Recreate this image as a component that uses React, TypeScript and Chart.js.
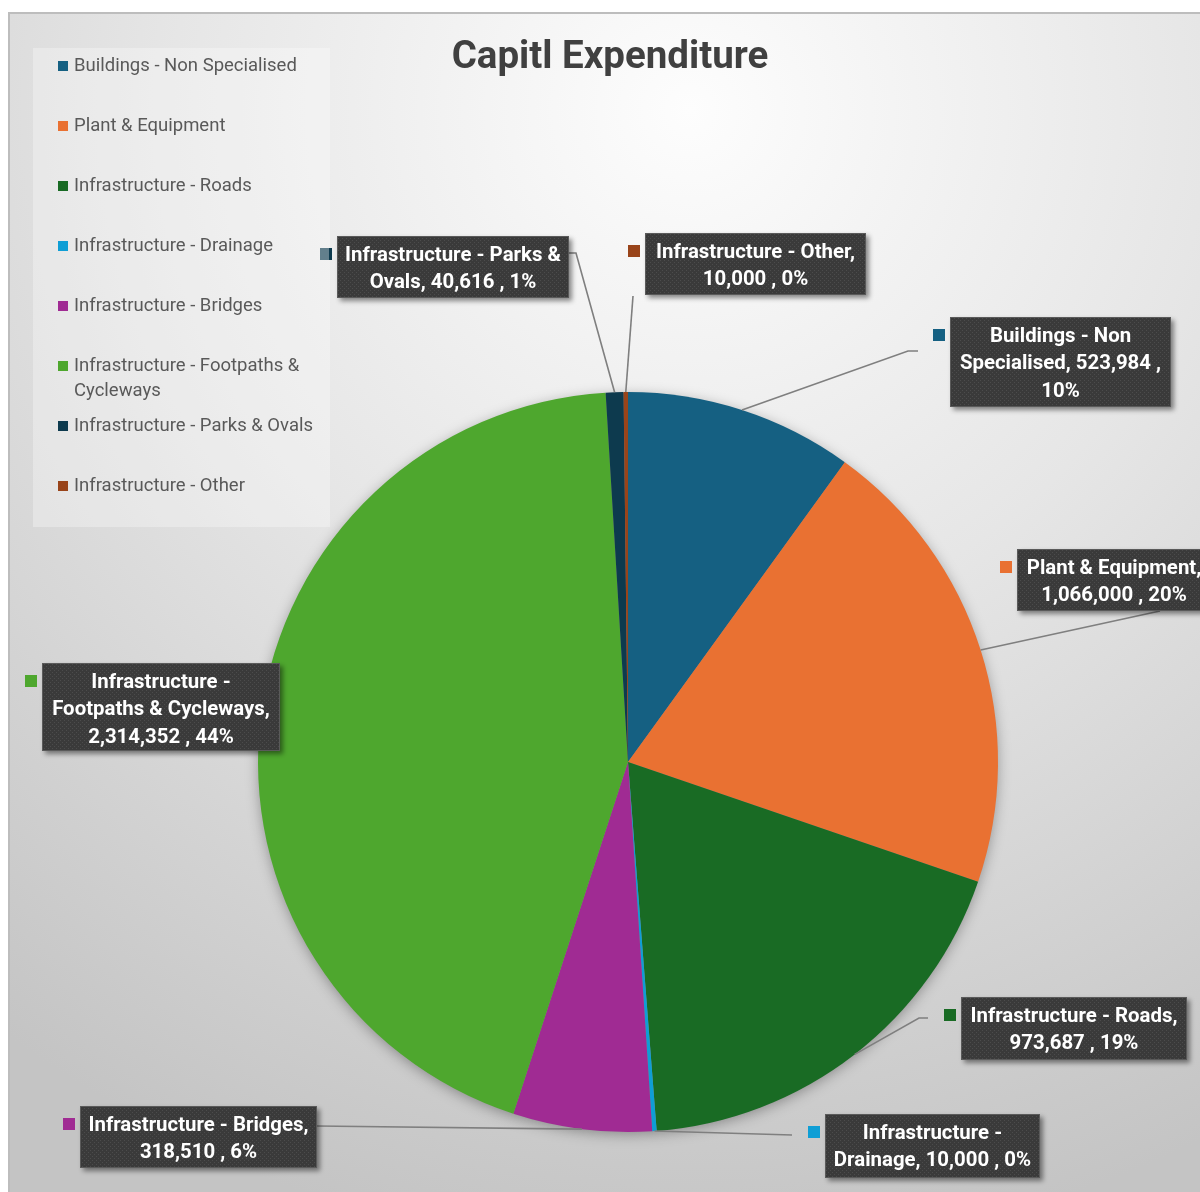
import React, { useEffect, useRef } from 'react';
import { Chart, registerables } from 'chart.js';
Chart.register(...registerables);

const W = 1200;
const H = 1192;

const TITLE = 'Capitl Expenditure';
const categories = [
  'Buildings - Non Specialised',
  'Plant & Equipment',
  'Infrastructure - Roads',
  'Infrastructure - Drainage',
  'Infrastructure - Bridges',
  'Infrastructure - Footpaths & Cycleways',
  'Infrastructure - Parks & Ovals',
  'Infrastructure - Other',
];
const values = [523984, 1066000, 973687, 10000, 318510, 2314352, 40616, 10000];
const colors = ['#156082', '#E97132', '#196B24', '#0F9ED5', '#A02B93', '#4EA72E', '#0D3A4E', '#99441A'];

// layout of data-label boxes (positions only) and leader line start points
const labelLayout = [
  { x: 950, y: 317, w: 221, h: 90, lead: [[918, 351], [908, 351]] },
  { x: 1017, y: 549, w: 194, h: 62, lead: [[1160, 611]] },
  { x: 961, y: 997, w: 226, h: 63, lead: [[928, 1018], [919, 1018]] },
  { x: 825, y: 1114, w: 215, h: 64, lead: [[792, 1135]] },
  { x: 80, y: 1106, w: 237, h: 62, lead: [[317, 1126]] },
  { x: 42, y: 663, w: 238, h: 88, lead: [] },
  { x: 337, y: 236, w: 232, h: 62, lead: [[569, 253], [576, 253]] },
  { x: 645, y: 233, w: 221, h: 62, lead: [[633, 296]] },
];

const LABEL_FONT = 'bold 20px Roboto, "Noto Sans", sans-serif';
const LABEL_SCALE = 1.02;
const LEGEND_FONT = '18.5px Roboto, "Noto Sans", sans-serif';
const TITLE_FONT = 'bold 38.5px Roboto, "Noto Sans", sans-serif';

function fmt(n: number) {
  return n.toLocaleString('en-US');
}

function wrap(ctx: CanvasRenderingContext2D, text: string, maxW: number, scale: number) {
  const words = text.split(' ');
  const lines: string[] = [];
  let cur = '';
  for (const w of words) {
    const t = cur ? cur + ' ' + w : w;
    if (cur && ctx.measureText(t).width * scale > maxW) {
      lines.push(cur);
      cur = w;
    } else cur = t;
  }
  if (cur) lines.push(cur);
  return lines;
}

function makePattern(ctx: CanvasRenderingContext2D) {
  const c = document.createElement('canvas');
  c.width = 4;
  c.height = 4;
  const p = c.getContext('2d')!;
  p.fillStyle = '#3a3a3a';
  p.fillRect(0, 0, 4, 4);
  p.fillStyle = '#4c4c4c';
  p.fillRect(0, 0, 1, 1);
  p.fillRect(2, 2, 1, 1);
  return ctx.createPattern(c, 'repeat');
}

function lighten(hex: string, t: number) {
  const n = parseInt(hex.slice(1), 16);
  const r = (n >> 16) & 255, g = (n >> 8) & 255, b = n & 255;
  const f = (v: number) => Math.round(v + (255 - v) * t);
  return `rgb(${f(r)},${f(g)},${f(b)})`;
}

const decorPlugin = {
  id: 'decor',
  beforeDraw(chart: any) {
    const ctx: CanvasRenderingContext2D = chart.ctx;
    ctx.save();
    ctx.fillStyle = '#ffffff';
    ctx.fillRect(0, 0, W, H);
    const g = ctx.createRadialGradient(690, 110, 0, 690, 110, 1150);
    g.addColorStop(0, '#fdfdfd');
    g.addColorStop(0.45, '#e6e6e6');
    g.addColorStop(1, '#c4c4c4');
    ctx.fillStyle = g;
    ctx.fillRect(8, 12, W, H);
    ctx.strokeStyle = '#bdbdbd';
    ctx.lineWidth = 2;
    ctx.beginPath();
    ctx.moveTo(9, H + 5);
    ctx.lineTo(9, 13);
    ctx.lineTo(W + 5, 13);
    ctx.stroke();

    // title
    ctx.fillStyle = '#404040';
    ctx.font = TITLE_FONT;
    ctx.textAlign = 'center';
    ctx.textBaseline = 'middle';
    ctx.fillText(TITLE, 610, 58);

    // legend
    ctx.fillStyle = 'rgba(255,255,255,0.3)';
    ctx.fillRect(33, 48, 297, 479);
    ctx.font = LEGEND_FONT;
    ctx.textAlign = 'left';
    ctx.textBaseline = 'middle';
    const labels: string[] = chart.data.labels;
    const bg: string[] = chart.data.datasets[0].backgroundColor;
    labels.forEach((lab, i) => {
      const y = 66 + i * 60;
      ctx.fillStyle = bg[i];
      ctx.fillRect(58, y - 5, 10, 10);
      ctx.fillStyle = '#595959';
      const lines = wrap(ctx, lab, 240, 1);
      lines.forEach((ln, k) => ctx.fillText(ln, 74, y + k * 25));
    });
    ctx.restore();
  },
  beforeDatasetsDraw(chart: any) {
    const arc = chart.getDatasetMeta(0).data[0];
    if (!arc) return;
    const { x, y, outerRadius } = arc.getProps(['x', 'y', 'outerRadius'], true);
    const ctx: CanvasRenderingContext2D = chart.ctx;
    ctx.save();
    ctx.shadowColor = 'rgba(0,0,0,0.35)';
    ctx.shadowBlur = 14;
    ctx.shadowOffsetY = 3;
    ctx.fillStyle = '#888';
    ctx.beginPath();
    ctx.arc(x, y, outerRadius - 1, 0, Math.PI * 2);
    ctx.fill();
    ctx.restore();
  },
  afterDatasetsDraw(chart: any) {
    const ctx: CanvasRenderingContext2D = chart.ctx;
    const meta = chart.getDatasetMeta(0);
    const data: number[] = chart.data.datasets[0].data;
    const labels: string[] = chart.data.labels;
    const bg: string[] = chart.data.datasets[0].backgroundColor;
    const total = data.reduce((a, b) => a + b, 0);
    const pattern = makePattern(ctx);
    ctx.save();
    // leader lines
    meta.data.forEach((el: any, i: number) => {
      const L = labelLayout[i];
      if (!L.lead.length) return;
      const p = el.getProps(['x', 'y', 'startAngle', 'endAngle', 'outerRadius'], true);
      const mid = (p.startAngle + p.endAngle) / 2;
      const px = p.x + Math.cos(mid) * p.outerRadius;
      const py = p.y + Math.sin(mid) * p.outerRadius;
      ctx.strokeStyle = '#7f7f7f';
      ctx.lineWidth = 1.6;
      ctx.beginPath();
      ctx.moveTo(L.lead[0][0], L.lead[0][1]);
      for (let k = 1; k < L.lead.length; k++) ctx.lineTo(L.lead[k][0], L.lead[k][1]);
      ctx.lineTo(px, py);
      ctx.stroke();
    });
    // boxes
    meta.data.forEach((el: any, i: number) => {
      const L = labelLayout[i];
      const pct = Math.round((data[i] / total) * 100);
      const text = `${labels[i]}, ${fmt(data[i])} , ${pct}%`;
      ctx.save();
      ctx.shadowColor = 'rgba(0,0,0,0.45)';
      ctx.shadowBlur = 5;
      ctx.shadowOffsetX = 3;
      ctx.shadowOffsetY = 3;
      ctx.fillStyle = pattern || '#3a3a3a';
      ctx.fillRect(L.x, L.y, L.w, L.h);
      ctx.restore();
      ctx.strokeStyle = '#5a5a5a';
      ctx.lineWidth = 1;
      ctx.strokeRect(L.x + 0.5, L.y + 0.5, L.w - 1, L.h - 1);
      // key marker
      const isDark = i === 6;
      ctx.fillStyle = isDark ? lighten(bg[i], 0.35) : bg[i];
      ctx.fillRect(L.x - 17, L.y + 12, 12, 12);
      if (isDark) {
        ctx.fillStyle = bg[i];
        ctx.fillRect(L.x - 8, L.y + 12, 3, 12);
      }
      ctx.font = LABEL_FONT;
      ctx.fillStyle = '#ffffff';
      ctx.textAlign = 'center';
      ctx.textBaseline = 'middle';
      const lines = wrap(ctx, text, L.w - 4, LABEL_SCALE);
      const cx = L.x + L.w / 2;
      lines.forEach((ln, k) => {
        ctx.save();
        ctx.translate(cx, L.y + 19.5 + k * 27.5);
        ctx.scale(LABEL_SCALE, 1);
        ctx.fillText(ln, 0, 0);
        ctx.restore();
      });
    });
    ctx.restore();
  },
};

export default function App() {
  const ref = useRef<HTMLCanvasElement | null>(null);
  useEffect(() => {
    document.body.style.margin = '0';
    const canvas = ref.current!;
    const chart = new Chart(canvas, {
      type: 'pie',
      data: {
        labels: categories,
        datasets: [
          {
            data: values,
            backgroundColor: colors,
            borderWidth: 0,
          },
        ],
      },
      options: {
        responsive: false,
        maintainAspectRatio: false,
        animation: false,
        devicePixelRatio: 1,
        layout: { padding: { left: 258, right: 202, top: 392, bottom: 60 } },
        plugins: {
          legend: { display: false },
          title: { display: false },
          tooltip: { enabled: false },
        },
      },
      plugins: [decorPlugin],
    });
    return () => chart.destroy();
  }, []);
  return (
    <div style={{ width: W, height: H, overflow: 'hidden' }}>
      <canvas ref={ref} width={W} height={H} style={{ display: 'block', width: W, height: H }} />
    </div>
  );
}
